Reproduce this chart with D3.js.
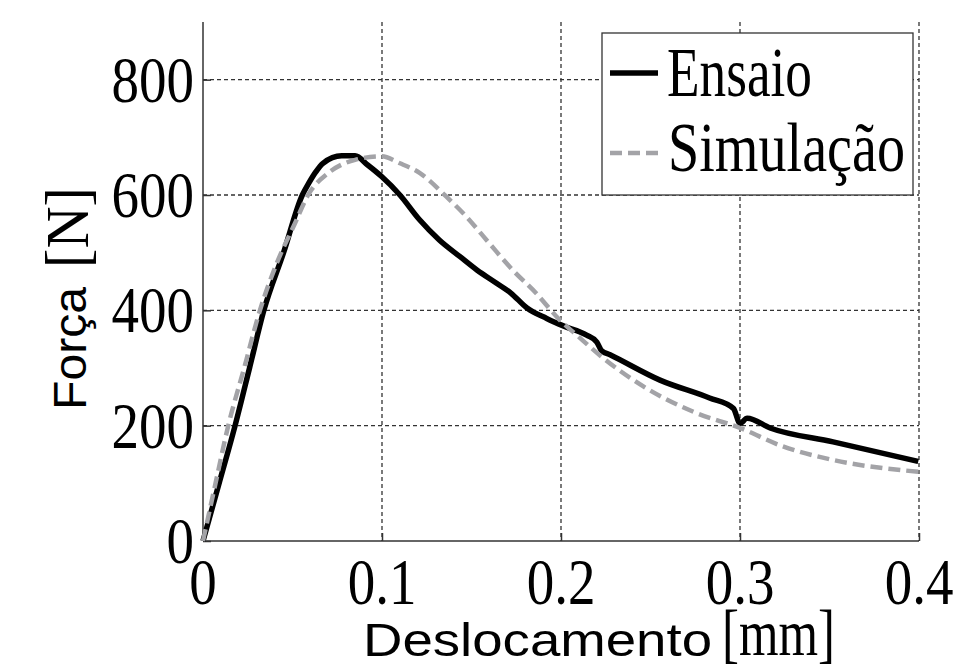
<!DOCTYPE html>
<html><head><meta charset="utf-8">
<script src="https://cdn.jsdelivr.net/npm/d3@7"></script>
<style>body{margin:0;background:#fff}svg{display:block}</style>
</head><body>
<script>
const xTicks = [0, 0.1, 0.2, 0.3, 0.4];
const xTickLabels = ["0", "0.1", "0.2", "0.3", "0.4"];
const yTicks = [0, 200, 400, 600, 800];
const yTickLabels = ["0", "200", "400", "600", "800"];
const seriesNames = ["Ensaio", "Simulação"];
const ensaioX = [0, 0.009, 0.018, 0.026, 0.034, 0.045, 0.0555, 0.059, 0.063, 0.067, 0.0775, 0.085, 0.092, 0.0998, 0.110, 0.121, 0.132, 0.1436, 0.153, 0.164, 0.172, 0.181, 0.192, 0.2013, 0.2143, 0.220, 0.2227, 0.2274, 0.2553, 0.283, 0.2963, 0.300, 0.304, 0.3168, 0.352, 0.3996];
const ensaioY = [0, 100, 201, 300, 400, 500, 600, 620, 640, 655, 668, 668, 652, 632, 600, 557, 522, 493, 470, 447, 430, 404, 386, 373, 357, 345, 330, 323, 279, 248, 230, 204, 213, 196, 172, 138];
const simX = [0, 0.007, 0.0141, 0.023, 0.0318, 0.041, 0.0514, 0.0589, 0.070, 0.085, 0.0998, 0.110, 0.1212, 0.136, 0.147, 0.160, 0.173, 0.186, 0.1994, 0.2088, 0.2237, 0.246, 0.274, 0.300, 0.324, 0.352, 0.3996];
const simY = [0, 100, 200, 300, 400, 480, 551, 601, 638, 661, 667, 655, 638, 597, 563, 516, 470, 430, 383, 357, 317, 268, 224, 196, 164, 140.5, 120];

const W = 953, H = 669;
const m = {left: 203, right: 919, top: 22, bottom: 541};
const svg = d3.select("body").append("svg").attr("width", W).attr("height", H);
const x = d3.scaleLinear().domain([0, 0.4]).range([m.left, m.right]);
const y = d3.scaleLinear().domain([0, 900]).range([m.bottom, m.top]);

const serif = "'Liberation Serif','Times New Roman',serif";
const sans = "'Liberation Sans',Arial,sans-serif";

// grid
const grid = svg.append("g").attr("stroke", "#333").attr("stroke-width", 1.3).attr("stroke-dasharray", "4,3");
grid.selectAll("line.v").data(xTicks.filter(d => d > 0)).enter().append("line")
  .attr("x1", d => x(d)).attr("x2", d => x(d)).attr("y1", m.top).attr("y2", m.bottom);
grid.selectAll("line.h").data(yTicks.filter(d => d > 0)).enter().append("line")
  .attr("y1", d => y(d)).attr("y2", d => y(d)).attr("x1", m.left).attr("x2", m.right);

// axes (inward ticks)
const xAxis = d3.axisBottom(x).tickValues(xTicks).tickSize(-8).tickFormat("");
const yAxis = d3.axisLeft(y).tickValues(yTicks).tickSize(-8).tickFormat("");
const gx = svg.append("g").attr("transform", `translate(0,${m.bottom})`).call(xAxis);
const gy = svg.append("g").attr("transform", `translate(${m.left},0)`).call(yAxis);
[gx, gy].forEach(g => { g.selectAll("path,line").attr("stroke", "#333").attr("stroke-width", 1.5); });
gx.select(".domain").attr("d", `M${m.left},0H${m.right}`);
gy.select(".domain").attr("d", `M0,${m.bottom}V${m.top}`);

// tick labels
xTicks.forEach((t, i) => {
  svg.append("text").attr("font-family", serif).attr("font-size", 55)
    .attr("text-anchor", "middle")
    .attr("transform", `translate(${x(t)},${604}) scale(1,1.2)`)
    .text(xTickLabels[i]);
});
yTicks.forEach((t, i) => {
  svg.append("text").attr("font-family", serif).attr("font-size", 55)
    .attr("text-anchor", "end")
    .attr("transform", `translate(${194},${y(t) + 22}) scale(1,1.2)`)
    .text(yTickLabels[i]);
});

// lines
const line = (xs, ys) => d3.line().curve(d3.curveMonotoneX)
  .x((d, i) => x(xs[i])).y((d, i) => y(ys[i]))(xs);
svg.append("path").attr("d", line(ensaioX, ensaioY)).attr("fill", "none")
  .attr("stroke", "#000").attr("stroke-width", 5.5).attr("stroke-linejoin", "round");
svg.append("path").attr("d", line(simX, simY)).attr("fill", "none")
  .attr("stroke", "#a3a3a7").attr("stroke-width", 4.5).attr("stroke-dasharray", "12,6");

// legend
const lg = svg.append("g");
lg.append("rect").attr("x", 602).attr("y", 33).attr("width", 311).attr("height", 162)
  .attr("fill", "#fff").attr("stroke", "#333").attr("stroke-width", 1.3);
lg.append("line").attr("x1", 610).attr("x2", 658).attr("y1", 73).attr("y2", 73)
  .attr("stroke", "#000").attr("stroke-width", 5.5);
lg.append("line").attr("x1", 610).attr("x2", 658).attr("y1", 153).attr("y2", 153)
  .attr("stroke", "#a3a3a7").attr("stroke-width", 4.5).attr("stroke-dasharray", "12,6");
lg.append("text").attr("font-family", serif).attr("font-size", 54)
  .attr("textLength", 145).attr("lengthAdjust", "spacingAndGlyphs")
  .attr("transform", "translate(667,96) scale(1,1.28)").text(seriesNames[0]);
lg.append("text").attr("font-family", serif).attr("font-size", 54)
  .attr("textLength", 237).attr("lengthAdjust", "spacingAndGlyphs")
  .attr("transform", "translate(668,171) scale(1,1.28)").text(seriesNames[1]);

// axis titles
svg.append("text").attr("font-family", sans).attr("font-size", 47)
  .attr("textLength", 349).attr("lengthAdjust", "spacingAndGlyphs")
  .attr("x", 363).attr("y", 656).text("Deslocamento");
svg.append("text").attr("font-family", serif).attr("font-size", 52)
  .attr("textLength", 113).attr("lengthAdjust", "spacingAndGlyphs")
  .attr("transform", "translate(722,655) scale(1,1.25)").text("[mm]");

svg.append("text").attr("font-family", sans).attr("font-size", 47)
  .attr("textLength", 123).attr("lengthAdjust", "spacingAndGlyphs")
  .attr("transform", "translate(86,410) rotate(-90)").text("Força");
svg.append("text").attr("font-family", serif).attr("font-size", 54)
  .attr("textLength", 81).attr("lengthAdjust", "spacingAndGlyphs")
  .attr("transform", "translate(88,268) rotate(-90) scale(1,1.15)").text("[N]");
</script>
</body></html>
